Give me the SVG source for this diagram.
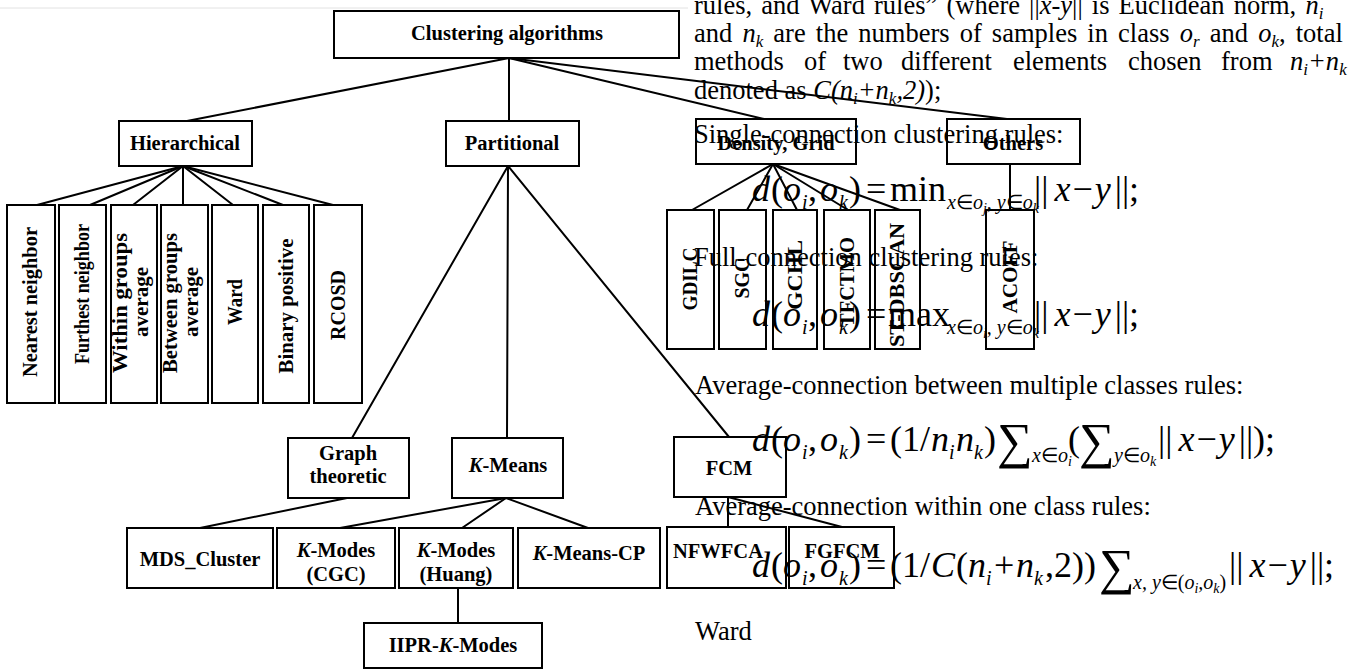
<svg xmlns="http://www.w3.org/2000/svg" width="1359" height="669" viewBox="0 0 1359 669">
<style>
.bx{fill:#fff;stroke:#000;stroke-width:2}
.cn line{stroke:#000;stroke-width:2;stroke-linecap:round}
.lb{font-family:"Liberation Serif","Times New Roman",serif;font-weight:bold;font-size:20.5px;text-anchor:middle;fill:#000}
.vl{font-size:20px}
.ov{font-family:"Liberation Serif","Times New Roman",serif;font-size:26.5px;fill:#000}
.s{font-size:17px}
.f{font-family:"Liberation Serif","Times New Roman",serif;font-size:36px;fill:#000}
.fs{font-family:"Liberation Serif","Times New Roman",serif;font-size:20px;fill:#000}
.fss{font-size:14px}
.fb{font-family:"Liberation Serif","Times New Roman",serif;font-size:50px;fill:#000}
.i{font-style:italic}
.u{font-style:normal}
</style>
<rect width="1359" height="669" fill="#fff"/>
<line x1="0" y1="8" x2="688" y2="8" stroke="#e2e2e2" stroke-width="1"/>

<g id="connectors" class="cn">
<line x1="509" y1="58" x2="187" y2="121"/>
<line x1="509" y1="58" x2="509" y2="121"/>
<line x1="509" y1="58" x2="764" y2="119"/>
<line x1="509" y1="58" x2="1007" y2="119"/>
<line x1="183" y1="166" x2="37" y2="205"/>
<line x1="183" y1="166" x2="90" y2="205"/>
<line x1="183" y1="166" x2="133" y2="205"/>
<line x1="183" y1="166" x2="183" y2="205"/>
<line x1="183" y1="166" x2="233" y2="205"/>
<line x1="183" y1="166" x2="283" y2="205"/>
<line x1="183" y1="166" x2="333" y2="205"/>
<line x1="508" y1="166" x2="352" y2="438"/>
<line x1="508" y1="166" x2="507" y2="438"/>
<line x1="508" y1="166" x2="729" y2="437"/>
<line x1="773" y1="164" x2="692" y2="210"/>
<line x1="773" y1="164" x2="747" y2="210"/>
<line x1="773" y1="164" x2="797" y2="210"/>
<line x1="773" y1="164" x2="848" y2="210"/>
<line x1="773" y1="164" x2="900" y2="210"/>
<line x1="1010" y1="164" x2="1010" y2="210"/>
<line x1="347" y1="498" x2="200" y2="528"/>
<line x1="506" y1="498" x2="340" y2="528"/>
<line x1="506" y1="498" x2="462" y2="528"/>
<line x1="506" y1="498" x2="588" y2="528"/>
<line x1="728" y1="497" x2="728" y2="527"/>
<line x1="728" y1="497" x2="842" y2="527"/>
<line x1="458" y1="588" x2="458" y2="623"/>
</g>

<g id="n-clustering"><rect class="bx" x="334" y="11" width="345" height="47"/><text class="lb" x="507" y="40">Clustering algorithms</text></g>
<g id="n-hierarchical"><rect class="bx" x="119" y="121" width="133" height="45"/><text class="lb" x="185" y="150">Hierarchical</text></g>
<g id="n-partitional"><rect class="bx" x="446" y="121" width="133" height="45"/><text class="lb" x="512" y="150">Partitional</text></g>
<g id="n-density"><rect class="bx" x="696" y="119" width="160" height="45"/><text class="lb" x="776" y="150">Density, Grid</text></g>
<g id="n-others"><rect class="bx" x="947" y="119" width="133" height="45"/><text class="lb" x="1013" y="150">Others</text></g>

<g id="n-nearest"><rect class="bx" x="7" y="205" width="48" height="198"/><text class="lb vl" transform="translate(37,302) rotate(-90)" textLength="150" lengthAdjust="spacingAndGlyphs">Nearest neighbor</text></g>
<g id="n-furthest"><rect class="bx" x="59" y="205" width="47" height="198"/><text class="lb vl" transform="translate(89,294) rotate(-90)" textLength="140" lengthAdjust="spacingAndGlyphs">Furthest neighbor</text></g>
<g id="n-within"><rect class="bx" x="111" y="205" width="46" height="198"/><text class="lb vl" transform="translate(127,303) rotate(-90)" textLength="140" lengthAdjust="spacingAndGlyphs">Within groups</text><text class="lb vl" transform="translate(148,302) rotate(-90)" textLength="70" lengthAdjust="spacingAndGlyphs">average</text></g>
<g id="n-between"><rect class="bx" x="161" y="205" width="47" height="198"/><text class="lb vl" transform="translate(177,303) rotate(-90)" textLength="140" lengthAdjust="spacingAndGlyphs">Between groups</text><text class="lb vl" transform="translate(198,302) rotate(-90)" textLength="70" lengthAdjust="spacingAndGlyphs">average</text></g>
<g id="n-ward"><rect class="bx" x="212" y="205" width="46" height="198"/><text class="lb vl" transform="translate(242,302) rotate(-90)" textLength="46" lengthAdjust="spacingAndGlyphs">Ward</text></g>
<g id="n-binary"><rect class="bx" x="263" y="205" width="46" height="198"/><text class="lb vl" transform="translate(293,306) rotate(-90)" textLength="135" lengthAdjust="spacingAndGlyphs">Binary positive</text></g>
<g id="n-rcosd"><rect class="bx" x="314" y="205" width="48" height="198"/><text class="lb vl" transform="translate(345,305) rotate(-90)" textLength="70" lengthAdjust="spacingAndGlyphs">RCOSD</text></g>

<g id="n-gdilc"><rect class="bx" x="667" y="210" width="47" height="139"/><text class="lb vl" transform="translate(697,279) rotate(-90)" textLength="63" lengthAdjust="spacingAndGlyphs">GDILC</text></g>
<g id="n-sgc"><rect class="bx" x="719" y="210" width="47" height="139"/><text class="lb vl" transform="translate(749,278) rotate(-90)">SGC</text></g>
<g id="n-gchl"><rect class="bx" x="773" y="210" width="44" height="139"/><text class="lb vl" transform="translate(802,275) rotate(-90)" textLength="70" lengthAdjust="spacingAndGlyphs">GCHL</text></g>
<g id="n-tfctmo"><rect class="bx" x="824" y="210" width="46" height="139"/><text class="lb vl" transform="translate(854,282) rotate(-90)" textLength="90" lengthAdjust="spacingAndGlyphs">TFCTMO</text></g>
<g id="n-stdbscan"><rect class="bx" x="875" y="210" width="45" height="139"/><text class="lb vl" transform="translate(904,285) rotate(-90)" textLength="124" lengthAdjust="spacingAndGlyphs">ST-DBSCAN</text></g>
<g id="n-acoff"><rect class="bx" x="986" y="210" width="48" height="139"/><text class="lb vl" transform="translate(1017,277) rotate(-90)" textLength="73" lengthAdjust="spacingAndGlyphs">ACOFF</text></g>

<g id="n-graph"><rect class="bx" x="288" y="438" width="121" height="60"/><text class="lb" x="348" y="460">Graph</text><text class="lb" x="348" y="483">theoretic</text></g>
<g id="n-kmeans"><rect class="bx" x="452" y="438" width="111" height="60"/><text class="lb" x="508" y="472"><tspan class="i">K</tspan>-Means</text></g>
<g id="n-fcm"><rect class="bx" x="674" y="437" width="112" height="60"/><text class="lb" x="729" y="475">FCM</text></g>
<g id="n-mds"><rect class="bx" x="127" y="528" width="146" height="60"/><text class="lb" x="200" y="566">MDS_Cluster</text></g>
<g id="n-kmodes-cgc"><rect class="bx" x="277" y="528" width="118" height="60"/><text class="lb" x="336" y="557"><tspan class="i">K</tspan>-Modes</text><text class="lb" x="336" y="581">(CGC)</text></g>
<g id="n-kmodes-huang"><rect class="bx" x="399" y="528" width="114" height="60"/><text class="lb" x="456" y="557"><tspan class="i">K</tspan>-Modes</text><text class="lb" x="456" y="581">(Huang)</text></g>
<g id="n-kmeans-cp"><rect class="bx" x="518" y="528" width="142" height="60"/><text class="lb" x="589" y="560"><tspan class="i">K</tspan>-Means-CP</text></g>
<g id="n-nfwfca"><rect class="bx" x="667" y="527" width="119" height="61"/><text class="lb" x="718" y="558">NFWFCA</text></g>
<g id="n-fgfcm"><rect class="bx" x="789" y="527" width="105" height="61"/><text class="lb" x="842" y="558">FGFCM</text></g>
<g id="n-iipr"><rect class="bx" x="364" y="623" width="178" height="45"/><text class="lb" x="453" y="652">IIPR-<tspan class="i">K</tspan>-Modes</text></g>

<g id="overlay-text">
<text class="ov" x="694" y="14" word-spacing="2.5">rules, and Ward rules” (where ||<tspan class="i">x-y</tspan>|| is Euclidean norm, <tspan class="i">n</tspan><tspan class="s i" dy="5">i</tspan></text>
<text class="ov" x="694" y="42" word-spacing="3.5">and <tspan class="i">n</tspan><tspan class="s i" dy="5">k</tspan><tspan dy="-5"> are the numbers of samples in class </tspan><tspan class="i">o</tspan><tspan class="s i" dy="5">r</tspan><tspan dy="-5"> and </tspan><tspan class="i">o</tspan><tspan class="s i" dy="5">k</tspan><tspan dy="-5">, total</tspan></text>
<text class="ov" y="70"><tspan x="694">methods</tspan><tspan x="804">of</tspan><tspan x="843">two</tspan><tspan x="901">different</tspan><tspan x="1013">elements</tspan><tspan x="1128">chosen</tspan><tspan x="1221">from</tspan><tspan x="1290" class="i">n</tspan><tspan class="s i" dy="5">i</tspan><tspan class="i" dy="-5">+n</tspan><tspan class="s i" dy="5">k</tspan></text>
<text class="ov" x="694" y="99">denoted as <tspan class="i">C(n</tspan><tspan class="s i" dy="5">i</tspan><tspan class="i" dy="-5">+n</tspan><tspan class="s i" dy="5">k</tspan><tspan class="i" dy="-5">,2)</tspan>);</text>
<text class="ov" x="694" y="143">Single-connection clustering rules:</text>
<text class="ov" x="694" y="266">Full-connection clustering rules:</text>
<text class="ov" x="695" y="394">Average-connection between multiple classes rules:</text>
<text class="ov" x="695" y="515">Average-connection within one class rules:</text>
<text class="ov" x="695" y="640">Ward</text>
</g>

<g id="formula-min">
<text class="f i" x="752" y="201">d</text><text class="f" x="771" y="201">(</text><text class="f i" x="783" y="201">o</text><text class="fs i" x="802" y="209">i</text><text class="f" x="808" y="201">,</text><text class="f i" x="820" y="201">o</text><text class="fs i" x="839" y="209">k</text><text class="f" x="849" y="201">)</text>
<text class="f" x="866" y="201">=</text><text class="f" x="890" y="201">min</text>
<text class="fs i" x="947" y="209">x<tspan class="u">∈</tspan>o<tspan class="fss" dy="4">j</tspan><tspan dy="-4">, y</tspan><tspan class="u">∈</tspan>o<tspan class="fss" dy="4">k</tspan></text>
<text class="f" x="1034" y="201">||<tspan class="i" dx="6">x</tspan><tspan dx="2">−</tspan><tspan class="i" dx="2">y</tspan><tspan dx="4">||;</tspan></text>
</g>

<g id="formula-max">
<text class="f i" x="752" y="326">d</text><text class="f" x="771" y="326">(</text><text class="f i" x="783" y="326">o</text><text class="fs i" x="802" y="334">i</text><text class="f" x="808" y="326">,</text><text class="f i" x="820" y="326">o</text><text class="fs i" x="839" y="334">k</text><text class="f" x="849" y="326">)</text>
<text class="f" x="866" y="326">=</text><text class="f" x="888" y="326">max</text>
<text class="fs i" x="947" y="334">x<tspan class="u">∈</tspan>o<tspan class="fss" dy="4">i</tspan><tspan dy="-4">, y</tspan><tspan class="u">∈</tspan>o<tspan class="fss" dy="4">k</tspan></text>
<text class="f" x="1034" y="326">||<tspan class="i" dx="6">x</tspan><tspan dx="2">−</tspan><tspan class="i" dx="2">y</tspan><tspan dx="4">||;</tspan></text>
</g>

<g id="formula-between">
<text class="f i" x="752" y="451">d</text><text class="f" x="771" y="451">(</text><text class="f i" x="783" y="451">o</text><text class="fs i" x="802" y="459">i</text><text class="f" x="808" y="451">,</text><text class="f i" x="820" y="451">o</text><text class="fs i" x="839" y="459">k</text><text class="f" x="849" y="451">)</text>
<text class="f" x="866" y="451">=</text>
<text class="f" x="890" y="451">(1/</text><text class="f i" x="931" y="451">n</text><text class="fs i" x="949" y="459">i</text><text class="f i" x="956" y="451">n</text><text class="fs i" x="974" y="459">k</text><text class="f" x="984" y="451">)</text>
<text class="fb" x="997" y="458">∑</text>
<text class="fs i" x="1032" y="462">x<tspan class="u">∈</tspan>o<tspan class="fss" dy="4">i</tspan></text>
<text class="f" x="1068" y="451">(</text>
<text class="fb" x="1079" y="458">∑</text>
<text class="fs i" x="1114" y="462">y<tspan class="u">∈</tspan>o<tspan class="fss" dy="4">k</tspan></text>
<text class="f" x="1158" y="451">||<tspan class="i" dx="6">x</tspan><tspan dx="2">−</tspan><tspan class="i" dx="2">y</tspan><tspan dx="4">||);</tspan></text>
</g>

<g id="formula-within">
<text class="f i" x="752" y="577">d</text><text class="f" x="771" y="577">(</text><text class="f i" x="783" y="577">o</text><text class="fs i" x="802" y="585">i</text><text class="f" x="808" y="577">,</text><text class="f i" x="820" y="577">o</text><text class="fs i" x="839" y="585">k</text><text class="f" x="849" y="577">)</text>
<text class="f" x="866" y="577">=</text>
<text class="f" x="890" y="577">(1/</text><text class="f i" x="931" y="577">C</text><text class="f" x="956" y="577">(</text><text class="f i" x="968" y="577">n</text><text class="fs i" x="986" y="585">i</text><text class="f" x="994" y="577">+</text><text class="f i" x="1016" y="577">n</text><text class="fs i" x="1034" y="585">k</text><text class="f" x="1045" y="577">,2))</text>
<text class="fb" x="1099" y="584">∑</text>
<text class="fs i" x="1133" y="589">x, y<tspan class="u">∈(</tspan>o<tspan class="fss" dy="4">i</tspan><tspan dy="-4">,o</tspan><tspan class="fss" dy="4">k</tspan><tspan class="u" dy="-4">)</tspan></text>
<text class="f" x="1229" y="577">||<tspan class="i" dx="6">x</tspan><tspan dx="2">−</tspan><tspan class="i" dx="2">y</tspan><tspan dx="4">||;</tspan></text>
</g>
</svg>
